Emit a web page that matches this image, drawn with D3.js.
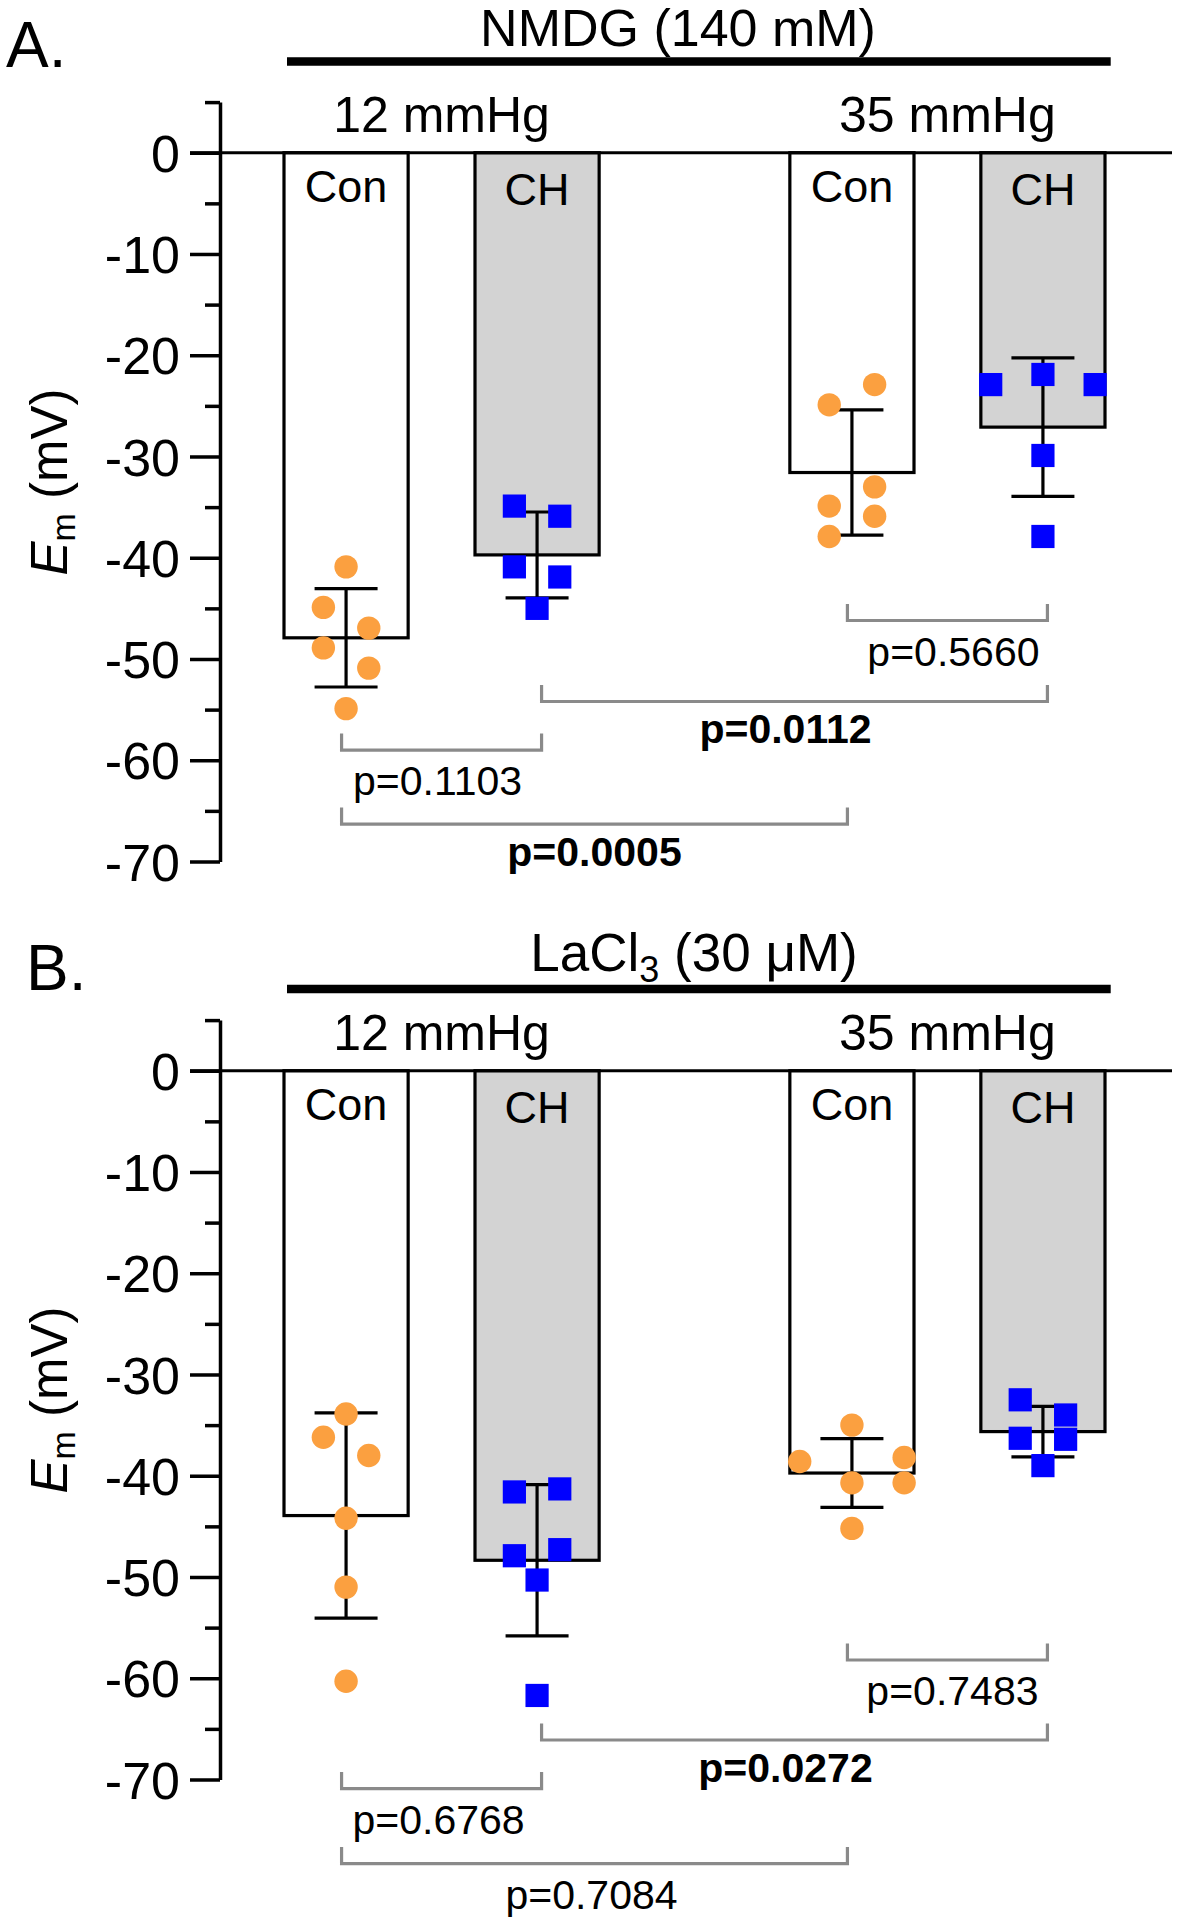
<!DOCTYPE html>
<html><head><meta charset="utf-8">
<script src="https://cdn.jsdelivr.net/npm/d3@7"></script>
<style>html,body{margin:0;padding:0;background:#fff}</style>
</head><body>
<svg id="chart" width="1179" height="1920"></svg>
<script>
// ---------- data ----------
const groups = ["12 mmHg", "35 mmHg"];
const conditions = ["Con", "CH"];
const panelLetters = ["A.", "B."];
const yMajorTicks = [0, -10, -20, -30, -40, -50, -60, -70];
const yMinorTicks = [5, -5, -15, -25, -35, -45, -55, -65];

// Panel A: NMDG (140 mM)
const nmdgCon12 = [-40.9, -44.9, -46.95, -48.9, -50.9, -54.9];
const nmdgCH12  = [-34.9, -35.9, -40.9, -41.9, -45.0];
const nmdgCon35 = [-22.9, -24.9, -33.0, -34.9, -35.9, -37.9];
const nmdgCH35  = [-22.9, -21.9, -22.9, -29.9, -37.9];
const nmdgPairs = [[0, 1], [2, 3], [1, 3], [0, 2]];
const nmdgPValues = ["p=0.1103", "p=0.5660", "p=0.0112", "p=0.0005"];
const nmdgBold = [false, false, true, true];
const nmdgBracketLevels = [-59.0, -46.2, -54.2, -66.3];

// Panel B: LaCl3 (30 µM)
const laCon12 = [-33.9, -36.2, -38.0, -44.2, -51.0, -60.3];
const laCH12  = [-41.6, -41.3, -47.9, -47.3, -50.3, -61.7];
const laCon35 = [-35.0, -38.6, -38.2, -40.7, -40.7, -45.2];
const laCH35  = [-32.5, -34.0, -36.3, -36.4, -39.0];
const laPairs = [[0, 1], [2, 3], [1, 3], [0, 2]];
const laPValues = ["p=0.6768", "p=0.7483", "p=0.0272", "p=0.7084"];
const laBold = [false, false, true, false];
const laBracketLevels = [-70.9, -58.2, -66.1, -78.3];

// scatter column slots (layout of symbols within a column, GraphPad style)
const nmdgSlots = [[0, -1, 1, -1, 1, 0], [-1, 1, -1, 1, 0], [1, -1, 1, -1, 1, -1], [-2.3, 0, 2.3, 0, 0]];
const laSlots = [[0, -1, 1, 0, 0, 0], [-1, 1, -1, 1, 0, 0], [0, -2.3, 2.3, 0, 2.3, 0], [-1, 1, -1, 1, 0]];
// small horizontal nudges of the p-value labels (px)
const nmdgLabelNudge = [-4, 6, -9, 0];
const laLabelNudge = [-3, 5, -9, -3];

// ---------- layout / style ----------
const FONT = "'Liberation Sans', Arial, Helvetica, sans-serif";
const ORANGE = "#FBA040";
const BLUE = "#0000FF";
const GREY_FILL = "#D3D3D3";
const BRACKET = "#8A8A8A";
const SLOT = 22.7;

const panels = [
  { letter: panelLetters[0], dy: 0, letterX: 6, letterY: 67, titleX: 678, titleY: 46, barY: 61.5,
    title: [["NMDG (140 mM)", false]], titleSize: 52,
    series: [nmdgCon12, nmdgCH12, nmdgCon35, nmdgCH35], slots: nmdgSlots,
    pairs: nmdgPairs, pv: nmdgPValues, bold: nmdgBold, levels: nmdgBracketLevels, nudge: nmdgLabelNudge },
  { letter: panelLetters[1], dy: 918, letterX: 26, letterY: 72, titleX: 694, titleY: 53, barY: 71,
    title: [["LaCl", false], ["3", true], [" (30 μM)", false]], titleSize: 53,
    series: [laCon12, laCH12, laCon35, laCH35], slots: laSlots,
    pairs: laPairs, pv: laPValues, bold: laBold, levels: laBracketLevels, nudge: laLabelNudge }
];

const svg = d3.select("#chart");
svg.append("rect").attr("width", 1179).attr("height", 1920).attr("fill", "#fff");

const xOuter = d3.scaleBand().domain(groups).range([284, 1105]).paddingInner(0.377).paddingOuter(0);
const xInner = d3.scaleBand().domain(conditions).range([0, xOuter.bandwidth()]).paddingInner(0.35).paddingOuter(0);
const xLeg = d3.scalePoint().domain(conditions).range([-100, 100]);
const y = d3.scaleLinear().domain([-70, 5]).range([861.5, 102.1]);

const seriesKeys = [];
groups.forEach(g => conditions.forEach(c => seriesKeys.push({ g, c })));
const cx = i => xOuter(seriesKeys[i].g) + xInner(seriesKeys[i].c) + xInner.bandwidth() / 2;
const legX = i => xOuter(seriesKeys[i].g) + xOuter.bandwidth() / 2 + xLeg(seriesKeys[i].c);

panels.forEach(p => {
  const g = svg.append("g").attr("transform", `translate(0,${p.dy})`).style("font-family", FONT);

  // header
  g.append("text").attr("x", p.letterX).attr("y", p.letterY).attr("font-size", 64).text(p.letter);
  const t = g.append("text").attr("x", p.titleX).attr("y", p.titleY).attr("font-size", p.titleSize)
    .attr("text-anchor", "middle");
  p.title.forEach(([s, sub], k) => {
    const ts = t.append("tspan").text(s);
    if (sub) ts.attr("font-size", 36).attr("dy", 11);
    else if (k > 0) ts.attr("dy", -11);
  });
  g.append("rect").attr("x", 287).attr("y", p.barY - 4.25).attr("width", 1110.7 - 287).attr("height", 8.5).attr("fill", "#000");

  // group labels
  g.selectAll(".grp").data(groups).join("text")
    .attr("x", d => xOuter(d) + xOuter.bandwidth() / 2).attr("y", y(0) - 21)
    .attr("text-anchor", "middle").attr("font-size", 50).text(d => d);

  const stats = p.series.map(s => ({ mean: d3.mean(s), sd: d3.deviation(s) }));

  // bars
  g.selectAll(".bar").data(stats).join("rect")
    .attr("x", (d, i) => cx(i) - xInner.bandwidth() / 2)
    .attr("y", y(0))
    .attr("width", xInner.bandwidth())
    .attr("height", d => y(d.mean) - y(0))
    .attr("fill", (d, i) => seriesKeys[i].c === "CH" ? GREY_FILL : "#fff")
    .attr("stroke", "#000").attr("stroke-width", 3.2);

  // zero line
  g.append("line").attr("x1", 190).attr("x2", 1172).attr("y1", y(0)).attr("y2", y(0))
    .attr("stroke", "#000").attr("stroke-width", 3.2);

  // axis
  const ax = g.append("g").attr("transform", "translate(220,0)")
    .call(d3.axisLeft(y).tickValues(yMajorTicks).tickSize(30).tickPadding(10).tickSizeOuter(0).tickFormat(d => String(d)));
  ax.select(".domain").attr("stroke-width", 3.5);
  ax.selectAll(".tick line").attr("stroke-width", 3.5);
  ax.selectAll(".tick text").attr("font-size", 52).attr("font-family", FONT).attr("dy", "0.36em").attr("fill", "#000");
  const axm = g.append("g").attr("transform", "translate(220,0)")
    .call(d3.axisLeft(y).tickValues(yMinorTicks).tickSize(15).tickSizeOuter(0).tickFormat(""));
  axm.select(".domain").remove();
  axm.selectAll(".tick line").attr("stroke-width", 3.5);

  // axis title
  const at = g.append("text").attr("transform", `translate(67,${482})rotate(-90)`)
    .attr("text-anchor", "middle").attr("font-size", 51);
  at.append("tspan").attr("font-style", "italic").text("E");
  at.append("tspan").attr("font-size", 34).attr("dy", 8).text("m");
  at.append("tspan").attr("dy", -8).text(" (mV)");

  // condition labels inside bars
  g.selectAll(".cond").data(seriesKeys).join("text")
    .attr("x", (d, i) => cx(i)).attr("y", d => y(0) + (d.c === "CH" ? 52 : 49))
    .attr("text-anchor", "middle").attr("font-size", 45).text(d => d.c);

  // error bars
  const eb = g.selectAll(".eb").data(stats).join("g");
  eb.append("line").attr("x1", (d, i) => cx(i)).attr("x2", (d, i) => cx(i))
    .attr("y1", d => y(d.mean + d.sd)).attr("y2", d => y(d.mean - d.sd));
  eb.append("line").attr("x1", (d, i) => cx(i) - 31.5).attr("x2", (d, i) => cx(i) + 31.5)
    .attr("y1", d => y(d.mean + d.sd)).attr("y2", d => y(d.mean + d.sd));
  eb.append("line").attr("x1", (d, i) => cx(i) - 31.5).attr("x2", (d, i) => cx(i) + 31.5)
    .attr("y1", d => y(d.mean - d.sd)).attr("y2", d => y(d.mean - d.sd));
  eb.selectAll("line").attr("stroke", "#000").attr("stroke-width", 3.2);

  // points
  p.series.forEach((s, i) => {
    const pts = s.map((v, j) => ({ v, x: cx(i) + p.slots[i][j] * SLOT }));
    if (seriesKeys[i].c === "Con") {
      g.selectAll(null).data(pts).join("circle")
        .attr("cx", d => d.x).attr("cy", d => y(d.v)).attr("r", 11.7).attr("fill", ORANGE);
    } else {
      g.selectAll(null).data(pts).join("rect")
        .attr("x", d => d.x - 11.6).attr("y", d => y(d.v) - 11.6)
        .attr("width", 23.2).attr("height", 23.2).attr("fill", BLUE);
    }
  });

  // significance brackets
  p.pairs.forEach(([a, b], k) => {
    const x1 = legX(a), x2 = legX(b), yl = y(p.levels[k]);
    g.append("path").attr("d", `M${x1},${yl - 16.5}V${yl}H${x2}V${yl - 16.5}`)
      .attr("fill", "none").attr("stroke", BRACKET).attr("stroke-width", 3.2);
    g.append("text").attr("x", (x1 + x2) / 2 + p.nudge[k]).attr("y", yl + (p.bold[k] ? 41.5 : 45))
      .attr("text-anchor", "middle").attr("font-size", 41)
      .attr("font-weight", p.bold[k] ? "bold" : "normal").text(p.pv[k]);
  });
});
</script>
</body></html>
